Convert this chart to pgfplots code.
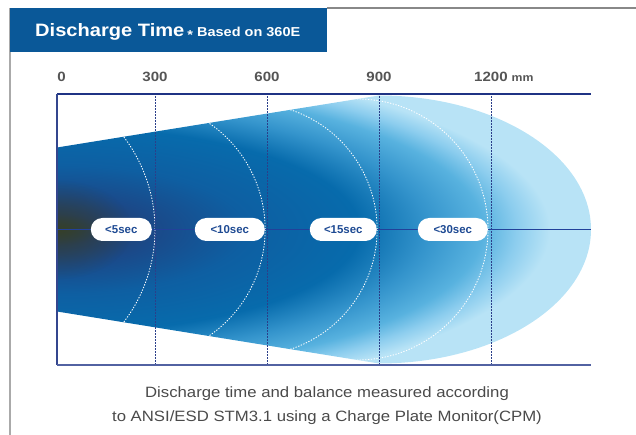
\documentclass[border=0pt]{standalone}
\usepackage{fontspec}
\setmainfont{Liberation Sans}[FakeStretch=1.12]
\newfontfamily\labfont{Liberation Sans}
\usepackage{pgfplots}
\pgfplotsset{compat=1.18}
\usetikzlibrary{calc,fadings}

\definecolor{hdrblue}{HTML}{0A5898}
\definecolor{tickgrey}{HTML}{555555}
\definecolor{capgrey}{HTML}{4A4A4A}
\definecolor{navy}{HTML}{1F3384}
\definecolor{leftline}{HTML}{34468E}
\definecolor{botline}{HTML}{5262A2}
\definecolor{gridnavy}{HTML}{2B3F8A}
\definecolor{midline}{HTML}{22419A}
\definecolor{labtext}{HTML}{1E4A93}
\definecolor{framegrey}{HTML}{AAAAAA}
\definecolor{topgrey}{HTML}{888888}
% gradient of the discharge cone, from the source outwards
% (tikz maps 25bp of the shading onto the half-width of the path)
\definecolor{g0}{HTML}{353F2A}
\definecolor{g1}{HTML}{24406E}
\definecolor{g2}{HTML}{1A4A8A}
\definecolor{g3}{HTML}{0E5FA2}
\definecolor{g4}{HTML}{076BAC}
\definecolor{g5}{HTML}{3494CC}
\definecolor{g6}{HTML}{58B2DF}
\definecolor{g7}{HTML}{8CCDEE}
\definecolor{g8}{HTML}{B8E3F6}
\pgfdeclareradialshading{dischg}{\pgfpoint{0bp}{0bp}}{%
  color(0bp)=(g0); color(2bp)=(g1); color(4.5bp)=(g2); color(8.5bp)=(g3);
  color(13.5bp)=(g4); color(16.5bp)=(g5); color(19bp)=(g6); color(20.5bp)=(g7);
  color(22bp)=(g8); color(50bp)=(g8)}
\tikzfading[name=glow, inner color=transparent!0, outer color=transparent!100]

\begin{document}
\begin{tikzpicture}
\useasboundingbox (0,0) rectangle (636bp,435bp);
% page frame and header
\draw[framegrey, line width=2bp] (10bp,0) -- (10bp,427bp);
\draw[topgrey, line width=1.5bp] (327bp,427bp) -- (636bp,427bp);
\fill[hdrblue] (10bp,383bp) rectangle (327bp,427bp);
\node[anchor=base west, inner sep=0, text=white, font=\bfseries\fontsize{18}{18}\selectfont]
  at (35bp,398.3bp) {Discharge Time\hspace{3bp}{\fontsize{13}{13}\selectfont\raisebox{-3bp}{*} Based on 360E}};

\begin{axis}[
    at={(57bp,70bp)}, anchor=south west,
    scale only axis, width=534bp, height=271bp,
    xmin=37.5, xmax=1467.9, ymin=-135.5, ymax=135.5,
    axis line style={draw=none},
    ytick=\empty,
    xtick={50,300,600,900,1200},
    xticklabels={0,300,600,900,{1200\rlap{\hspace{4bp}\fontsize{11}{11}\selectfont mm}}},
    xtick pos=upper, xticklabel pos=upper,
    major tick length=0pt,
    /pgf/number format/assume math mode=true,
    xticklabel style={anchor=base, yshift=12bp, text=tickgrey,
      font=\bfseries\fontsize{13.5}{13.5}\selectfont},
    clip=false,
  ]
  % cone and discharge zones
  \begin{scope}
    \clip (axis cs:37.5,82) -- (axis cs:900,134)
      arc[start angle=90, end angle=-90, x radius=212bp, y radius=134bp]
      -- (axis cs:37.5,-82) -- cycle;
    \shade[shading=dischg] ($(axis cs:37.5,0)+(-560bp,-190bp)$) rectangle ($(axis cs:37.5,0)+(560bp,190bp)$);
    \fill[g0, opacity=0.75, path fading=glow] (axis cs:37.5,0) ellipse [x radius=75bp, y radius=50bp];
    \begin{scope}[white, line width=0.85bp, dash pattern=on 1.3bp off 1.5bp]
      \draw (axis cs:300,0) arc[start angle=0, end angle=42, radius=153bp];
      \draw (axis cs:300,0) arc[start angle=0, end angle=-42, radius=153bp];
      \draw (axis cs:595,0) arc[start angle=0, end angle=62, radius=129bp];
      \draw (axis cs:595,0) arc[start angle=0, end angle=-62, radius=129bp];
      \draw (axis cs:895,0) arc[start angle=0, end angle=78, radius=126bp];
      \draw (axis cs:895,0) arc[start angle=0, end angle=-78, radius=126bp];
      \draw (axis cs:1192,0) arc[start angle=0, end angle=92, radius=130.5bp];
      \draw (axis cs:1192,0) arc[start angle=0, end angle=-92, radius=130.5bp];
    \end{scope}
  \end{scope}
  % distance lines
  \pgfplotsinvokeforeach{300,600,900,1200}{
    \draw[gridnavy, line width=0.9bp, dash pattern=on 1.6bp off 1.4bp]
      (axis cs:#1,-135.5) -- (axis cs:#1,135.5);
  }
  \draw[midline, line width=1.7bp] (axis cs:37.5,0) -- (axis cs:1467.9,0);
  \tikzset{pill/.style={fill=white, rounded corners=11.5bp, minimum height=23bp,
      inner sep=0pt, anchor=east, text=labtext,
      font=\labfont\bfseries\fontsize{11.5}{11.5}\selectfont}}
  \node[pill, minimum width=61bp] at (axis cs:292,0) {<5sec};
  \node[pill, minimum width=70bp] at (axis cs:594.6,0) {<10sec};
  \node[pill, minimum width=67bp] at (axis cs:894.6,0) {<15sec};
  \node[pill, minimum width=70bp] at (axis cs:1192,0) {<30sec};
  % frame of the plot
  \draw[navy, line width=1.6bp] (rel axis cs:0,1) -- (rel axis cs:1,1);
  \draw[leftline, line width=1.2bp] (rel axis cs:0,0) -- (rel axis cs:0,1);
  \draw[botline, line width=1.6bp] (rel axis cs:0,0) -- (rel axis cs:1,0);
\end{axis}

\node[anchor=base, text=capgrey, font=\fontsize{15}{15}\selectfont]
  at (327bp,37.7bp) {Discharge time and balance measured according};
\node[anchor=base, text=capgrey, font=\fontsize{15}{15}\selectfont]
  at (327bp,13.3bp) {to ANSI/ESD STM3.1 using a Charge Plate Monitor(CPM)};
\end{tikzpicture}
\end{document}
